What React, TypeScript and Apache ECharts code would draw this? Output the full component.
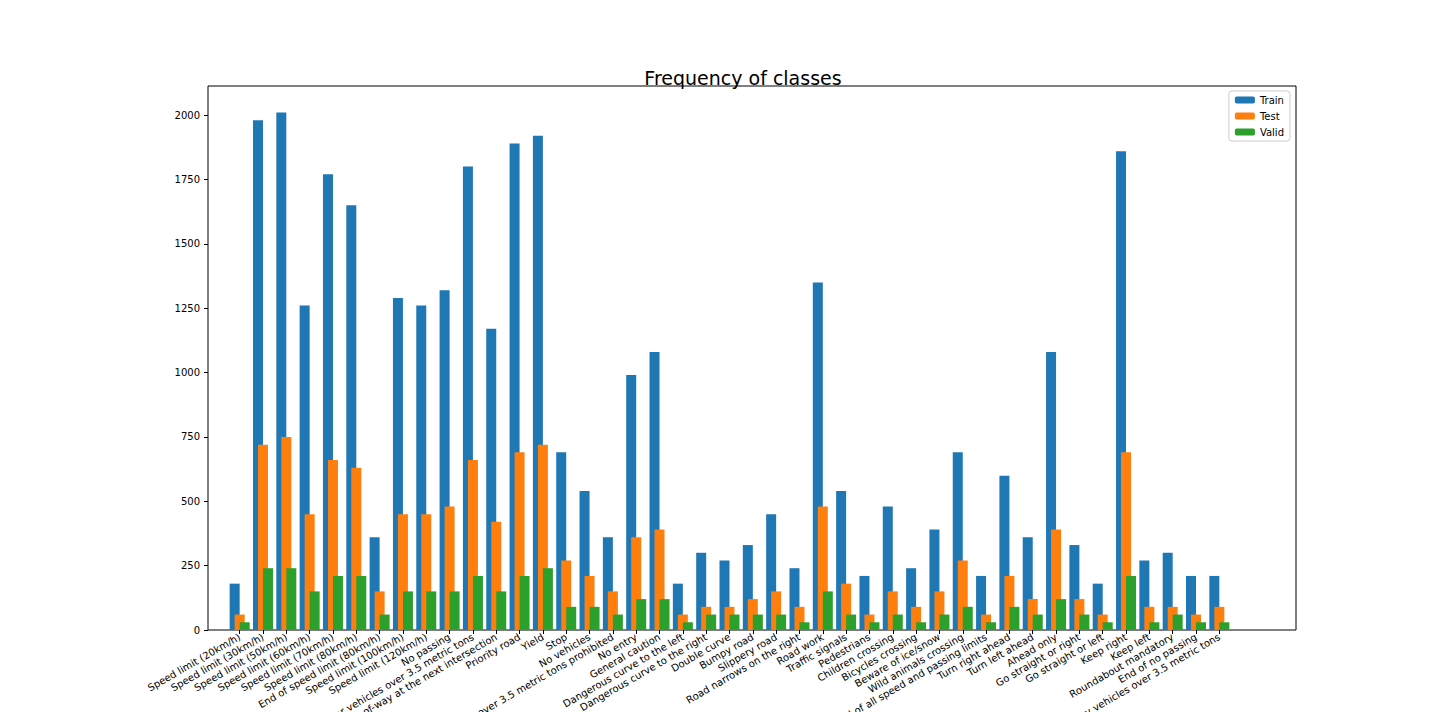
import React, { useEffect, useRef } from "react";
import * as echarts from "echarts";

const classNames = [
  "Speed limit (20km/h)", "Speed limit (30km/h)", "Speed limit (50km/h)", "Speed limit (60km/h)",
  "Speed limit (70km/h)", "Speed limit (80km/h)", "End of speed limit (80km/h)", "Speed limit (100km/h)",
  "Speed limit (120km/h)", "No passing", "No passing for vehicles over 3.5 metric tons",
  "Right-of-way at the next intersection", "Priority road", "Yield", "Stop", "No vehicles",
  "Vehicles over 3.5 metric tons prohibited", "No entry", "General caution",
  "Dangerous curve to the left", "Dangerous curve to the right", "Double curve", "Bumpy road",
  "Slippery road", "Road narrows on the right", "Road work", "Traffic signals", "Pedestrians",
  "Children crossing", "Bicycles crossing", "Beware of ice/snow", "Wild animals crossing",
  "End of all speed and passing limits", "Turn right ahead", "Turn left ahead", "Ahead only",
  "Go straight or right", "Go straight or left", "Keep right", "Keep left", "Roundabout mandatory",
  "End of no passing", "End of no passing by vehicles over 3.5 metric tons",
];

const trainCounts = [180, 1980, 2010, 1260, 1770, 1650, 360, 1290, 1260, 1320, 1800, 1170, 1890, 1920, 690, 540, 360, 990, 1080, 180, 300, 270, 330, 450, 240, 1350, 540, 210, 480, 240, 390, 690, 210, 599, 360, 1080, 330, 180, 1860, 270, 300, 210, 210];
const testCounts = [60, 720, 750, 450, 660, 630, 150, 450, 450, 480, 660, 420, 690, 720, 270, 210, 150, 360, 390, 60, 90, 90, 120, 150, 90, 480, 180, 60, 150, 90, 150, 270, 60, 210, 120, 390, 120, 60, 690, 90, 90, 60, 90];
const validCounts = [30, 240, 240, 150, 210, 210, 60, 150, 150, 150, 210, 150, 210, 240, 90, 90, 60, 120, 120, 30, 60, 60, 60, 60, 30, 150, 60, 30, 60, 30, 60, 90, 30, 90, 60, 120, 60, 30, 210, 30, 60, 30, 30];

const App: React.FC = () => {
  const chartRef = useRef<HTMLDivElement>(null);

  useEffect(() => {
    if (!chartRef.current) return;
    const chart = echarts.init(chartRef.current, null, { renderer: "svg" });
    const font = "DejaVu Sans";
    const bar = (name: string, data: number[], color: string) => ({
      name,
      type: "bar",
      data,
      barWidth: 10,
      barGap: "-50%",
      itemStyle: { color },
      xAxisIndex: 0,
      yAxisIndex: 0,
    });
    chart.setOption({
      animation: false,
      textStyle: { fontFamily: font },
      title: {
        text: "Frequency of classes",
        left: 730,
        top: 55,
        textAlign: "center",
        textStyle: { fontSize: 19, fontWeight: "normal", color: "#000", fontFamily: font },
      },
      legend: {
        orient: "vertical",
        right: 142,
        top: 83,
        itemWidth: 20,
        itemHeight: 7,
        itemGap: 6,
        padding: [4, 6],
        borderColor: "#ccc",
        borderWidth: 1,
        borderRadius: 3,
        textStyle: { fontSize: 10, color: "#000", fontFamily: font },
        data: ["Train", "Test", "Valid"],
      },
      grid: [
        { left: 220, right: 201, top: 78, bottom: 82, outerBoundsMode: "none", containLabel: false },
        { left: 200, right: 136, top: 78, bottom: 82, outerBoundsMode: "none", containLabel: false, show: true, borderColor: "#000", borderWidth: 1 },
      ],
      xAxis: [
        {
          type: "category",
          gridIndex: 0,
          data: classNames,
          axisLine: { show: false },
          axisTick: { show: true, alignWithLabel: true, length: 4, lineStyle: { color: "#000" } },
          axisLabel: { interval: 0, rotate: 30, fontSize: 10, color: "#000", margin: 6 },
        },
        { type: "value", gridIndex: 1, show: false },
      ],
      yAxis: [
        {
          type: "value",
          gridIndex: 0,
          min: 0,
          max: 2113,
          interval: 250,
          offset: 20,
          axisLine: { show: false },
          axisTick: { show: true, length: 4, lineStyle: { color: "#000" } },
          axisLabel: { fontSize: 10, color: "#000", margin: 8, showMaxLabel: false, formatter: (v: number) => String(v) },
          splitLine: { show: false },
        },
        { type: "value", gridIndex: 1, show: false },
      ],
      series: [
        bar("Train", trainCounts, "#1f77b4"),
        bar("Test", testCounts, "#ff7f0e"),
        bar("Valid", validCounts, "#2ca02c"),
      ],
    });
    return () => chart.dispose();
  }, []);

  return <div ref={chartRef} style={{ width: 1424, height: 704 }} />;
};

export default App;
